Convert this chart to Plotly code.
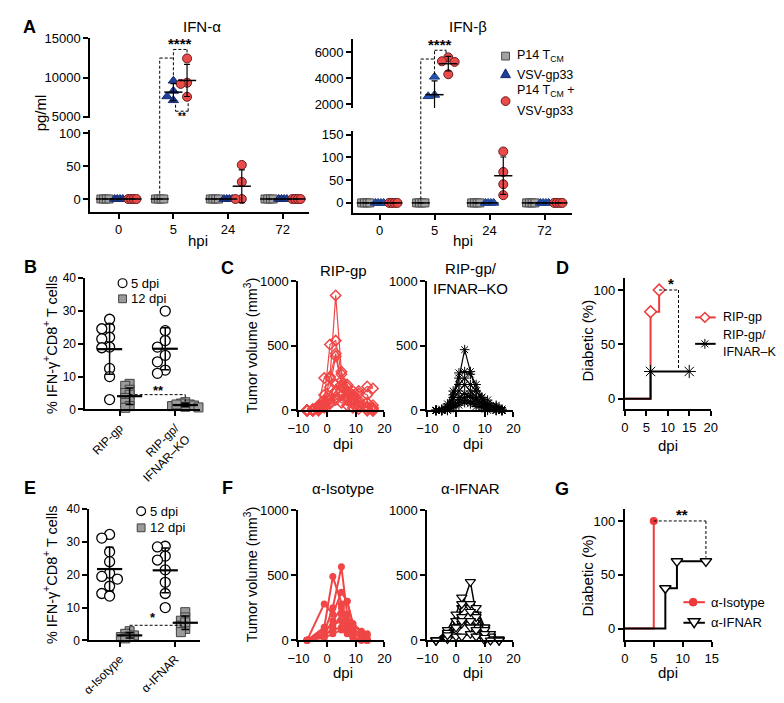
import numpy as np
import plotly.graph_objects as go

W, H = 784, 703
FONT = "Liberation Sans, Arial, sans-serif"

# ---------------- data ----------------
hpi_labels = ["0", "5", "24", "72"]
ifna_p14 = [[0, 0, 0, 0], [0, 0, 0, 0], [0, 0, 0, 0], [0, 0, 0, 0]]
ifna_vsv = [[0, 0, 0, 0], [9600, 8300, 7600, 7100], [0, 0, 0, 0], [0, 0, 0, 0]]
ifna_combo = [[0, 0, 0, 0], [12450, 9350, 9200, 7550], [52, 26, 0, 0], [0, 0, 0, 0]]
ifnb_p14 = [[0, 0, 0, 0], [0, 0, 0, 0], [0, 0, 0, 0], [0, 0, 0, 0]]
ifnb_vsv = [[0, 0, 0, 0], [4100, 2700, 2600, 1500], [0, 0, 0, 0], [0, 0, 0, 0]]
ifnb_combo = [[0, 0, 0, 0], [5600, 5300, 5250, 4300], [113, 68, 41, 17], [0, 0, 0, 0]]

b_groups = ["RIP-gp", "RIP-gp/<br>IFNAR–KO"]
b_5dpi = [[27.5, 24.8, 24.6, 22.0, 21.5, 19.0, 18.8, 12.5, 10.0, 3.0],
          [30.0, 24.0, 21.0, 19.0, 16.5, 14.5, 12.0, 11.0]]
b_12dpi = [[7.8, 7.2, 6.0, 5.0, 4.5, 3.5, 2.8, 2.0, 1.0, 0.5],
           [2.2, 1.8, 1.5, 1.2, 1.0, 0.8, 1.5, 0.6]]

e_groups = ["α-Isotype", "α-IFNAR"]
e_5dpi = [[32.3, 31.2, 27.0, 24.0, 20.5, 19.5, 18.7, 16.5, 14.3, 13.5],
          [28.7, 28.5, 25.7, 24.5, 21.5, 17.7, 14.3, 10.0]]
e_12dpi = [[2.8, 2.0, 1.5, 1.0, 1.2, 0.6],
           [8.6, 7.0, 6.0, 4.5, 3.5, 2.5, 5.5]]

c_days = [-7, -5, -3, -1, 1, 3, 5, 7, 9, 11, 14, 16]
c_ripgp = [
    [0, 0, 10, 60, 250, 890, 300, 150, 80, 40, 20, 0],
    [0, 0, 20, 80, 510, 540, 280, 200, 120, 60, 30, 10],
    [0, 10, 40, 250, 260, 440, 230, 180, 100, 130, 185, 170],
    [0, 0, 30, 120, 180, 420, 200, 100, 50, 150, 120, 20],
    [0, 0, 0, 50, 100, 200, 150, 100, 60, 30, 0, 0],
    [0, 0, 20, 40, 80, 150, 180, 120, 90, 80, 60, 40],
    [0, 0, 0, 30, 60, 100, 60, 40, 20, 10, 0, 0],
    [0, 0, 10, 20, 50, 80, 120, 80, 150, 60, 20, 0],
]
c_ko = [
    [0, 0, 20, 100, 250, 470, 300, 150, 100, 50, 20, 0],
    [0, 0, 30, 120, 290, 300, 280, 200, 100, 80, 40, 10],
    [0, 10, 50, 150, 200, 250, 200, 150, 80, 50, 20, 0],
    [0, 0, 20, 80, 150, 200, 150, 100, 100, 50, 30, 0],
    [0, 0, 10, 50, 100, 130, 100, 80, 60, 20, 0, 0],
    [0, 0, 0, 30, 80, 100, 120, 90, 50, 30, 10, 0],
    [0, 0, 10, 40, 60, 80, 70, 50, 30, 10, 0, 0],
    [0, 0, 0, 20, 40, 60, 50, 30, 20, 0, 0, 0],
]

f_iso_days = [-7, -1, 2, 5, 7, 9, 12, 14]
f_iso = [
    [0, 60, 250, 565, 200, 100, 30, 0],
    [0, 100, 490, 280, 150, 50, 20, 10],
    [0, 280, 200, 370, 300, 120, 60, 40],
    [0, 50, 150, 250, 300, 130, 70, 50],
    [0, 30, 100, 200, 150, 80, 40, 0],
    [0, 80, 120, 150, 100, 60, 20, 0],
    [0, 40, 80, 100, 70, 30, 0, 0],
    [0, 20, 50, 80, 50, 20, 0, 0],
]
f_ifnar_days = [-7, -3, 0, 2, 5, 7, 10, 12, 15]
f_ifnar = [
    [0, 50, 150, 250, 450, 200, 100, 30, 0],
    [0, 80, 200, 330, 250, 150, 50, 20, 0],
    [0, 30, 100, 280, 280, 250, 100, 50, 10],
    [0, 60, 150, 180, 220, 180, 80, 30, 0],
    [0, 20, 80, 130, 150, 100, 50, 10, 0],
    [0, 10, 30, 30, 50, 30, 0, 0, 0],
    [0, 40, 100, 150, 100, 80, 20, 0, 0],
]

d_ripgp_days = [0, 6, 8]
d_ripgp_pct = [0, 80, 100]
d_ko_days = [0, 6, 15]
d_ko_pct = [0, 25, 25]

g_iso_days = [0, 5]
g_iso_pct = [0, 100]
g_ifnar_days = [0, 7, 9, 14]
g_ifnar_pct = [0, 37.5, 62.5, 62.5]

# ---------------- helpers ----------------
def xdom(a, b):
    return [a / W, b / W]


def ydom(top, bottom):
    return [1 - bottom / H, 1 - top / H]


axes = {}


def axis(key, dom, rng, anchor, **kw):
    d = dict(domain=dom, range=rng, anchor=anchor, showline=True, linewidth=2,
             linecolor="black", ticks="outside", ticklen=5, tickwidth=2,
             tickcolor="black", showgrid=False, zeroline=False,
             tickfont=dict(size=13, color="black", family=FONT), fixedrange=True)
    d.update(kw)
    axes[key] = d


def y2p(key, v):
    d0, d1 = axes[key]["domain"]
    r0, r1 = axes[key]["range"]
    return d0 + (v - r0) / (r1 - r0) * (d1 - d0)


def px_per_unit(key, horizontal):
    d0, d1 = axes[key]["domain"]
    r0, r1 = axes[key]["range"]
    return (d1 - d0) * (W if horizontal else H) / (r1 - r0)


def swarm(vals, xppu, yppu, d):
    """Beeswarm-style horizontal offsets (data units) so markers do not pile up."""
    offs = [0.0] * len(vals)
    placed = []
    for i in sorted(range(len(vals)), key=lambda j: -vals[j]):
        yp = vals[i] * yppu
        k = 0
        while True:
            o = ((k + 1) // 2) * d * (-1 if k % 2 == 1 else 1)
            if all((o - a) ** 2 + (yp - b) ** 2 >= (d * 0.98) ** 2 for a, b in placed):
                break
            k += 1
        placed.append((o, yp))
        offs[i] = o / xppu
    return offs


# ---------------- axes ----------------
axis("xaxis", xdom(73, 297), [-0.518, 3.482], "y2", tickvals=[0, 1, 2, 3], ticktext=hpi_labels)
axis("yaxis", ydom(24, 105), [4875, 15000], "x", tickvals=[5000, 10000, 15000], tickformat="d")
axis("yaxis2", ydom(118, 201), [-19.4, 104.5], "x", tickvals=[0, 50, 100])
axis("xaxis2", xdom(342, 566), [-0.48, 3.5], "y4", tickvals=[0, 1, 2, 3], ticktext=hpi_labels)
axis("yaxis3", ydom(25, 95), [1700, 6980], "x2", tickvals=[2000, 4000, 6000], tickformat="d")
axis("yaxis4", ydom(119, 202), [-21.5, 157], "x2", tickvals=[0, 50, 100, 150])
axis("xaxis3", xdom(68, 185), [-0.614, 1.44], "y5", tickvals=[0, 1], ticktext=b_groups,
     tickangle=-45, tickfont=dict(size=12, color="black", family=FONT))
axis("yaxis5", ydom(269, 403), [0, 40], "x3", tickvals=[0, 10, 20, 30, 40],
     tickfont=dict(size=12, color="black", family=FONT))
axis("xaxis4", xdom(286, 374), [-10, 20], "y6", tickvals=[-10, 0, 10, 20])
axis("yaxis6", ydom(272, 404), [0, 1000], "x4", tickvals=[0, 500, 1000])
axis("xaxis5", xdom(418, 506), [-10, 20], "y7", tickvals=[-10, 0, 10, 20])
axis("yaxis7", ydom(272, 404), [0, 1000], "x5", tickvals=[0, 500, 1000])
axis("xaxis6", xdom(620, 708), [0, 20], "y8", tickvals=[0, 5, 10, 15, 20])
axis("yaxis8", ydom(269, 403), [-9.9, 110.8], "x6", tickvals=[0, 50, 100])
axis("xaxis7", xdom(72, 185), [-0.544, 1.44], "y9", tickvals=[0, 1], ticktext=e_groups,
     tickangle=-45, tickfont=dict(size=12, color="black", family=FONT))
axis("yaxis9", ydom(505, 639), [0, 40], "x7", tickvals=[0, 10, 20, 30, 40],
     tickfont=dict(size=12, color="black", family=FONT))
axis("xaxis8", xdom(286, 374), [-10, 20], "y10", tickvals=[-10, 0, 10, 20])
axis("yaxis10", ydom(506, 639), [0, 1000], "x8", tickvals=[0, 500, 1000])
axis("xaxis9", xdom(418, 506), [-10, 20], "y11", tickvals=[-10, 0, 10, 20])
axis("yaxis11", ydom(506, 639), [0, 1000], "x9", tickvals=[0, 500, 1000])
axis("xaxis10", xdom(620, 709), [0, 15], "y12", tickvals=[0, 5, 10, 15])
axis("yaxis12", ydom(505, 639), [-10.9, 110.9], "x10", tickvals=[0, 50, 100])

fig = go.Figure()

# ---------------- Panel A ----------------
GRAY_F, GRAY_E = "#A3A3A3", "#4A4A4A"
BLUE_F, BLUE_E = "#1F3F9C", "#15296B"
BLUE2_F, BLUE2_E = "#2452B0", "#1A3C85"
RED_F, RED_E = "#EA4B4B", "#6E1A1A"
jit4 = [-0.075, -0.025, 0.025, 0.075]


def draw_A(xa, yup, ylo, thresh, groups):
    xkey = "xaxis" if xa == "x" else "xaxis" + xa[1:]
    ukey, lkey = "yaxis" + (yup[1:] or ""), "yaxis" + ylo[1:]
    xppu = px_per_unit(xkey, True)
    overlays = []
    for vals, off, sym, fill, edge, size in groups:
        xu, yu, xl, yl = [], [], [], []
        mu = ([], [], [])
        ml = ([], [], [])
        for ci, v in enumerate(vals):
            if len(set(v)) == 1:
                offs = [jit4[k % 4] for k in range(len(v))]
            else:
                lo_vals = [a for a in v if a <= thresh]
                up_vals = [a for a in v if a > thresh]
                o_lo = swarm(lo_vals, xppu, px_per_unit(lkey, False), 6.5) if lo_vals else []
                o_up = swarm(up_vals, xppu, px_per_unit(ukey, False), 6.5) if up_vals else []
                offs, il, iu = [], 0, 0
                for a in v:
                    if a <= thresh:
                        offs.append(o_lo[il]); il += 1
                    else:
                        offs.append(o_up[iu]); iu += 1
            for val, o in zip(v, offs):
                x = ci + off + o
                if val > thresh:
                    xu.append(x); yu.append(val)
                else:
                    xl.append(x); yl.append(val)
            m = float(np.mean(v)); s = float(np.std(v, ddof=1))
            tgt = mu if m > thresh else ml
            tgt[0].append(ci + off); tgt[1].append(m); tgt[2].append(s)
        mk = dict(symbol=sym, size=size, color=fill, line=dict(color=edge, width=1))
        fig.add_trace(go.Scatter(x=xl, y=yl, xaxis=xa, yaxis=ylo, mode="markers", marker=mk,
                                 showlegend=False, cliponaxis=False, hoverinfo="skip"))
        if xu:
            fig.add_trace(go.Scatter(x=xu, y=yu, xaxis=xa, yaxis=yup, mode="markers", marker=mk,
                                     showlegend=False, cliponaxis=False, hoverinfo="skip"))
        overlays.append((mu, yup))
        overlays.append((ml, ylo))
    for (mx, my, ms), ya in overlays:
        if not mx:
            continue
        fig.add_trace(go.Scatter(x=mx, y=my, xaxis=xa, yaxis=ya, mode="markers",
                                 marker=dict(symbol="line-ew", size=13, color="black",
                                             line=dict(color="black", width=1.5)),
                                 error_y=dict(type="data", array=ms, color="black", thickness=1.2, width=3),
                                 showlegend=False, cliponaxis=False, hoverinfo="skip"))


draw_A("x", "y", "y2", 1000, [
    (ifna_p14, -0.25, "square", GRAY_F, GRAY_E, 8),
    (ifna_vsv, 0.0, "triangle-up", BLUE_F, BLUE_E, 9),
    (ifna_combo, 0.25, "circle", RED_F, RED_E, 9),
])
draw_A("x2", "y3", "y4", 1000, [
    (ifnb_p14, -0.25, "square", GRAY_F, GRAY_E, 8),
    (ifnb_vsv, 0.0, "triangle-up", BLUE2_F, BLUE2_E, 9),
    (ifnb_combo, 0.25, "circle", RED_F, RED_E, 9),
])

# ---------------- Panels B / E ----------------
SQ_F, SQ_E = "#9B9B9B", "#404040"


def draw_dots(xa, ya, g5, g12):
    xkey, ykey = "xaxis" + xa[1:], "yaxis" + ya[1:]
    xppu, yppu = px_per_unit(xkey, True), px_per_unit(ykey, False)
    overlays = []
    for ci in range(len(g5)):
        o5 = swarm(g5[ci], xppu, yppu, 8.0)
        fig.add_trace(go.Scatter(x=[ci - 0.18 + o for o in o5], y=g5[ci], xaxis=xa, yaxis=ya,
                                 mode="markers",
                                 marker=dict(symbol="circle", size=10, color="white",
                                             line=dict(color="black", width=1.3)),
                                 showlegend=False, cliponaxis=False, hoverinfo="skip"))
        o12 = swarm(g12[ci], xppu, yppu, 4.5)
        fig.add_trace(go.Scatter(x=[ci + 0.18 + o for o in o12], y=g12[ci], xaxis=xa, yaxis=ya,
                                 mode="markers",
                                 marker=dict(symbol="square", size=9, color=SQ_F,
                                             line=dict(color=SQ_E, width=1)),
                                 showlegend=False, cliponaxis=False, hoverinfo="skip"))
        for off, v in ((-0.18, g5[ci]), (0.18, g12[ci])):
            overlays.append((ci + off, float(np.mean(v)), float(np.std(v, ddof=1))))
    fig.add_trace(go.Scatter(x=[o[0] for o in overlays], y=[o[1] for o in overlays],
                             xaxis=xa, yaxis=ya, mode="markers",
                             marker=dict(symbol="line-ew", size=18, color="black",
                                         line=dict(color="black", width=2.2)),
                             error_y=dict(type="data", array=[o[2] for o in overlays],
                                          color="black", thickness=1.5, width=4),
                             showlegend=False, cliponaxis=False, hoverinfo="skip"))


draw_dots("x3", "y5", b_5dpi, b_12dpi)
draw_dots("x7", "y9", e_5dpi, e_12dpi)

# ---------------- Panels C / F ----------------
RED_C = "#F04646"
for m in c_ripgp:
    fig.add_trace(go.Scatter(x=c_days, y=m, xaxis="x4", yaxis="y6", mode="lines+markers",
                             line=dict(color=RED_C, width=1.2),
                             marker=dict(symbol="diamond-open", size=8, color=RED_C, line=dict(width=1.5)),
                             showlegend=False, cliponaxis=False, hoverinfo="skip"))
for m in c_ko:
    fig.add_trace(go.Scatter(x=c_days, y=m, xaxis="x5", yaxis="y7", mode="lines+markers",
                             line=dict(color="black", width=1.2),
                             marker=dict(symbol="asterisk-open", size=8, color="black", line=dict(width=1)),
                             showlegend=False, cliponaxis=False, hoverinfo="skip"))
for m in f_iso:
    fig.add_trace(go.Scatter(x=f_iso_days, y=m, xaxis="x8", yaxis="y10", mode="lines+markers",
                             line=dict(color=RED_C, width=2),
                             marker=dict(symbol="circle", size=7, color=RED_C),
                             showlegend=False, cliponaxis=False, hoverinfo="skip"))
for m in f_ifnar:
    fig.add_trace(go.Scatter(x=f_ifnar_days, y=m, xaxis="x9", yaxis="y11", mode="lines+markers",
                             line=dict(color="black", width=1.5),
                             marker=dict(symbol="triangle-down", size=9, color="white",
                                         line=dict(color="black", width=1.2)),
                             showlegend=False, cliponaxis=False, hoverinfo="skip"))

# ---------------- Panels D / G (step curves) ----------------
def step(xa, ya, days, pct, color, width, mk):
    fig.add_trace(go.Scatter(x=days[:2] + [days[1]], y=[pct[0], pct[0], pct[1]], xaxis=xa, yaxis=ya,
                             mode="lines", line=dict(color=color, width=width),
                             showlegend=False, cliponaxis=False, hoverinfo="skip"))
    fig.add_trace(go.Scatter(x=days[1:], y=pct[1:], xaxis=xa, yaxis=ya, mode="lines+markers",
                             line=dict(color=color, width=width, shape="hv"), marker=mk,
                             showlegend=False, cliponaxis=False, hoverinfo="skip"))


RED_D = "#EE3A3A"
step("x6", "y8", d_ripgp_days, d_ripgp_pct, RED_D, 2,
     dict(symbol="diamond", size=9, color="white", line=dict(color=RED_D, width=1.5)))
step("x6", "y8", d_ko_days, d_ko_pct, "black", 2,
     dict(symbol="asterisk-open", size=11, color="black", line=dict(color="black", width=1)))
step("x10", "y12", g_iso_days, g_iso_pct, RED_D, 2,
     dict(symbol="circle", size=8, color=RED_D))
step("x10", "y12", g_ifnar_days, g_ifnar_pct, "black", 2,
     dict(symbol="triangle-down", size=10, color="white", line=dict(color="black", width=1.5)))

# ---------------- significance brackets ----------------
shapes = []
DASH = dict(color="black", width=1, dash="3px,2px")


def seg(xref, x0, x1, ykey0, y0, ykey1, y1):
    shapes.append(dict(type="line", xref=xref, yref="paper", x0=x0, x1=x1,
                       y0=y2p(ykey0, y0), y1=y2p(ykey1, y1), line=DASH))


seg("x", 0.75, 0.75, "yaxis2", 8, "yaxis", 12500)
seg("x", 0.75, 1.0, "yaxis", 12500, "yaxis", 12500)
seg("x", 1.0, 1.0, "yaxis", 10300, "yaxis", 13600)
seg("x", 1.0, 1.25, "yaxis", 13600, "yaxis", 13600)
seg("x", 1.25, 1.25, "yaxis", 13600, "yaxis", 12950)
seg("x", 1.04, 1.04, "yaxis", 6540, "yaxis", 5710)
seg("x", 1.04, 1.27, "yaxis", 5710, "yaxis", 5710)
seg("x", 1.27, 1.27, "yaxis", 5710, "yaxis", 6960)
seg("x2", 0.75, 0.75, "yaxis4", 8, "yaxis3", 5472)
seg("x2", 0.75, 1.0, "yaxis3", 5472, "yaxis3", 5472)
seg("x2", 1.0, 1.0, "yaxis3", 4300, "yaxis3", 6150)
seg("x2", 1.0, 1.21, "yaxis3", 6150, "yaxis3", 6150)
seg("x2", 1.21, 1.21, "yaxis3", 6150, "yaxis3", 5850)
seg("x3", 0.18, 1.18, "yaxis5", 4.5, "yaxis5", 4.5)
seg("x3", 1.18, 1.18, "yaxis5", 4.5, "yaxis5", 2.5)
seg("x7", 0.18, 1.12, "yaxis9", 4.6, "yaxis9", 4.6)
seg("x7", 0.18, 0.18, "yaxis9", 1.5, "yaxis9", 4.6)
seg("x6", 8, 12.5, "yaxis8", 100, "yaxis8", 100)
seg("x6", 12.5, 12.5, "yaxis8", 100, "yaxis8", 27)
seg("x10", 5, 14, "yaxis12", 100, "yaxis12", 100)
seg("x10", 14, 14, "yaxis12", 100, "yaxis12", 66)

# ---------------- manual legends (paper coordinates from pixels) ----------------
def px(x):
    return x / W


def py(y):
    return 1 - y / H


def P(x, y):
    return f"{px(x):.5f},{py(y):.5f}"


def lg_rect(cx, cy, s, fill, edge):
    shapes.append(dict(type="rect", xref="paper", yref="paper", x0=px(cx - s / 2), x1=px(cx + s / 2),
                       y0=py(cy + s / 2), y1=py(cy - s / 2), fillcolor=fill, line=dict(color=edge, width=1)))


def lg_circle(cx, cy, r, fill, edge, lw=1):
    shapes.append(dict(type="circle", xref="paper", yref="paper", x0=px(cx - r), x1=px(cx + r),
                       y0=py(cy + r), y1=py(cy - r), fillcolor=fill, line=dict(color=edge, width=lw)))


def lg_poly(pts, fill, edge, lw=1):
    path = "M " + " L ".join(P(x, y) for x, y in pts) + " Z"
    shapes.append(dict(type="path", xref="paper", yref="paper", path=path, fillcolor=fill,
                       line=dict(color=edge, width=lw)))


def lg_line(x0, x1, y, color, w=2):
    shapes.append(dict(type="line", xref="paper", yref="paper", x0=px(x0), x1=px(x1),
                       y0=py(y), y1=py(y), line=dict(color=color, width=w)))


def lg_asterisk(cx, cy, r, color):
    d = r * 0.71
    path = (f"M {P(cx - r, cy)} L {P(cx + r, cy)} M {P(cx, cy - r)} L {P(cx, cy + r)} "
            f"M {P(cx - d, cy - d)} L {P(cx + d, cy + d)} M {P(cx - d, cy + d)} L {P(cx + d, cy - d)}")
    shapes.append(dict(type="path", xref="paper", yref="paper", path=path, line=dict(color=color, width=1)))


ann = []


def txt(x, y, s, size=14, bold=False, angle=0, xanchor="center", yanchor="middle"):
    if bold:
        s = "<b>" + s + "</b>"
    ann.append(dict(x=px(x), y=py(y), xref="paper", yref="paper", text=s, showarrow=False,
                    font=dict(size=size, color="black", family=FONT), textangle=angle,
                    xanchor=xanchor, yanchor=yanchor))


# legend A
LAX, LAT = 498, 508
lg_rect(LAX, 42, 8, GRAY_F, GRAY_E)
lg_poly([(LAX, 55), (LAX + 5, 64), (LAX - 5, 64)], BLUE_F, BLUE_E)
lg_circle(LAX, 88, 4.5, RED_F, RED_E)
txt(LAT, 42, "P14 T<sub>CM</sub>", 12.5, xanchor="left")
txt(LAT, 61, "VSV-gp33", 12.5, xanchor="left")
txt(LAT, 78, "P14 T<sub>CM</sub> +", 12.5, xanchor="left")
txt(LAT, 98, "VSV-gp33", 12.5, xanchor="left")
# legend B
lg_circle(106, 274, 4.5, "white", "black", 1.2)
lg_rect(106, 290, 8, SQ_F, SQ_E)
txt(113, 274, "5 dpi", 13, xanchor="left")
txt(113, 290, "12 dpi", 13, xanchor="left")
# legend E
lg_circle(125, 507, 4.5, "white", "black", 1.2)
lg_rect(125, 524, 8, SQ_F, SQ_E)
txt(132, 507, "5 dpi", 13, xanchor="left")
txt(132, 524, "12 dpi", 13, xanchor="left")
# legend D
lg_line(692, 713, 309, RED_D)
lg_poly([(702, 304), (707, 309), (702, 314), (697, 309)], "white", RED_D, 1.5)
lg_line(692, 713, 336, "black")
lg_asterisk(702, 336, 5, "black")
txt(719, 309, "RIP-gp", 12.5, xanchor="left")
txt(719, 327, "RIP-gp/", 12.5, xanchor="left")
txt(719, 344, "IFNAR–KO", 12.5, xanchor="left")
# legend G
lg_line(680, 702, 600, RED_D)
lg_circle(690, 600, 4, RED_D, RED_D)
lg_line(680, 702, 621, "black")
lg_poly([(685, 617), (697, 617), (691, 626)], "white", "black", 1.5)
txt(706, 600, "α-Isotype", 13, xanchor="left")
txt(706, 621, "α-IFNAR", 13, xanchor="left")

# panel letters, titles, axis titles
for lab, (lx, ly) in {"A": (11, 12), "B": (12, 258), "C": (213, 259), "D": (556, 259),
                      "E": (11, 483), "F": (213, 483), "G": (556, 484)}.items():
    txt(lx, ly, lab, size=18, bold=True)

txt(187, 12, "IFN-α", 15)
txt(460, 12, "IFN-β", 15)
txt(22, 100, "pg/ml", 15, angle=-90)
txt(183, 230, "hpi", 15)
txt(454, 230, "hpi", 15)
txt(332, 261, "RIP-gp", 15)
txt(462, 269, "RIP-gp/<br>IFNAR–KO", 15)
txt(332, 484, "α-Isotype", 15)
txt(462, 484, "α-IFNAR", 15)
txt(237, 338, "Tumor volume (mm<sup>3</sup>)", 14.5, angle=-90)
txt(237, 572, "Tumor volume (mm<sup>3</sup>)", 14.5, angle=-90)
txt(32, 337, "% IFN-γ<sup>+</sup>CD8<sup>+</sup> T cells", 14.5, angle=-90)
txt(32, 572, "% IFN-γ<sup>+</sup>CD8<sup>+</sup> T cells", 14.5, angle=-90)
txt(582, 333, "Diabetic (%)", 15, angle=-90)
txt(582, 573, "Diabetic (%)", 15, angle=-90)
txt(332, 438, "dpi", 15)
txt(465, 438, "dpi", 15)
txt(664, 440, "dpi", 15)
txt(332, 672, "dpi", 15)
txt(465, 672, "dpi", 15)
txt(664, 672, "dpi", 15)


def star(xref, yref, x, y, s, size=15):
    ann.append(dict(x=x, y=y, xref=xref, yref=yref, text="<b>" + s + "</b>", showarrow=False,
                    font=dict(size=size, color="black", family=FONT), xanchor="center", yanchor="middle"))


star("x", "y", 1.12, 14350, "****")
star("x", "y", 1.15, 5050, "**", 10)
star("x2", "y3", 1.1, 6620, "****")
star("x3", "y5", 0.7, 5.8, "**", 13)
star("x7", "y9", 0.6, 6.9, "*", 13)
star("x6", "y8", 10.7, 106, "*", 15)
star("x10", "y12", 9.8, 106, "**", 15)

fig.update_layout(
    width=W, height=H, margin=dict(l=0, r=0, t=0, b=0),
    paper_bgcolor="white", plot_bgcolor="white", showlegend=False,
    font=dict(family=FONT, color="black", size=13),
    shapes=shapes, annotations=ann,
    **axes,
)

fig.write_html("out.html")
